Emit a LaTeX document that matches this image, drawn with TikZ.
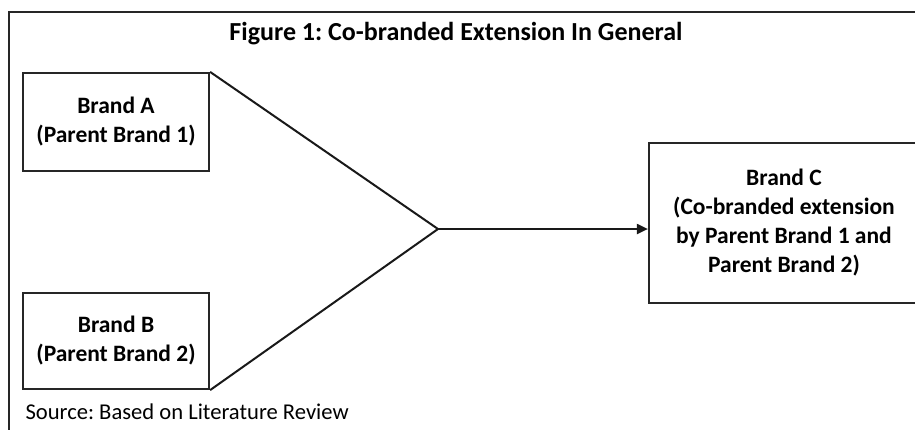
\documentclass[tikz,border=0pt]{standalone}
\usepackage{fontspec}
\setmainfont{Carlito}
\usetikzlibrary{arrows.meta}
\frenchspacing

\tikzset{brand/.style={draw=black!85, line width=2.2pt, align=center,
		font=\fontsize{23.5}{29}\selectfont\bfseries, inner sep=0pt},
	link/.style={draw=black!90, line width=2pt}}

\begin{document}
\begin{tikzpicture}[x=1pt,y=-1pt]
			\useasboundingbox (0,0) rectangle (915,429);
			\clip (0,0) rectangle (915,429);
			\draw[line width=2.8pt, black!85] (9,12) rectangle (940,450);
			\node[font=\fontsize{26}{30}\selectfont\bfseries] (T) at (456,34) {Figure 1: Co-branded Extension In General};
			\node[brand, minimum width=186pt, minimum height=98pt] (A) at (116,122) {Brand A\\(Parent Brand 1)};
			\node[brand, minimum width=186pt, minimum height=96pt] (B) at (116,341) {Brand B\\(Parent Brand 2)};
			\node[brand, minimum width=270pt, minimum height=160pt] (C) at (784,223) {Brand C\\(Co-branded extension\\by Parent Brand 1 and\\Parent Brand 2)};
			\coordinate (M) at (438,229);
			\draw[link] (A.north east) -- (M);
			\draw[link] (B.south east) -- (M);
			%\draw[link] (M) -- (C);
			\draw[link, -{Triangle[length=11pt,width=10pt]}] (M) -- (C.west |- M);
			\node[anchor=base west, font=\fontsize{22.6}{26}\selectfont] (S) at (22,419) {Source: Based on Literature Review};
\end{tikzpicture}
\end{document}
